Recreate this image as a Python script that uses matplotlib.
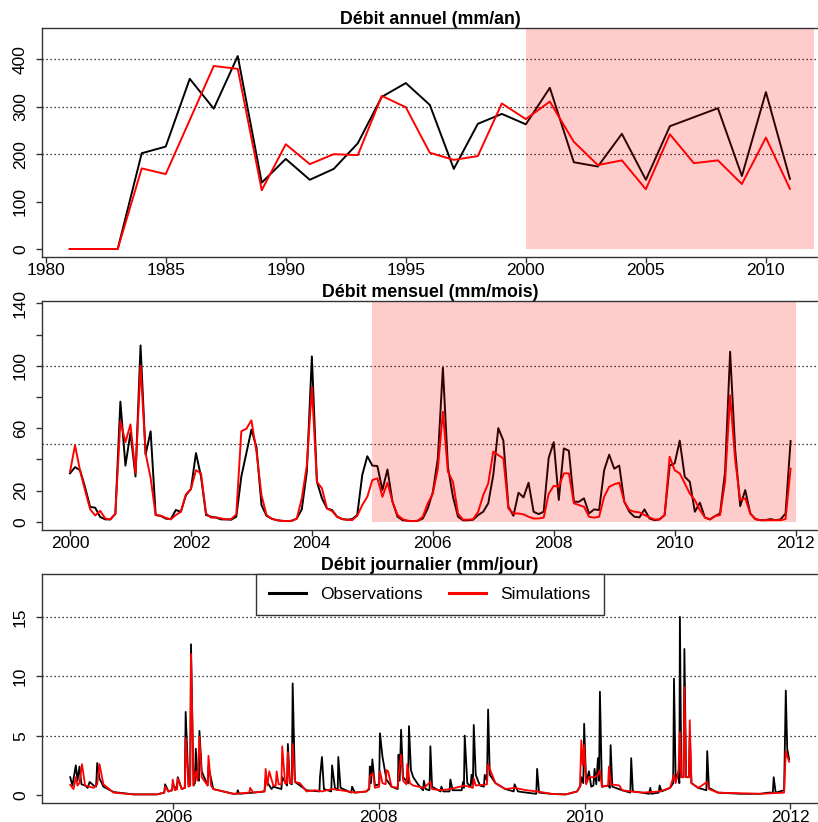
import numpy as np
import matplotlib
matplotlib.use("Agg")
import matplotlib.pyplot as plt
from matplotlib.lines import Line2D

plt.rcParams['font.family'] = ['Liberation Sans', 'DejaVu Sans']

# ---- annual (mm/an) ----
annees = np.arange(1981, 2012)
obs_annuel = [0, 0, 0, 202, 216, 359, 296, 407, 140, 190, 146, 169, 223, 321, 350, 304,
              169, 264, 285, 263, 340, 183, 174, 243, 146, 259, 278, 297, 154, 331, 148]
sim_annuel = [0, 0, 0, 170, 158, 272, 386, 380, 124, 221, 179, 200, 198, 323, 299, 203,
              188, 196, 307, 274, 311, 226, 177, 187, 126, 242, 181, 187, 137, 235, 127]

# ---- monthly (mm/mois), Jan 2000 -> Dec 2011 ----
obs_mensuel = [31, 35, 33, 22, 9.5, 9, 3, 1.5, 1.5, 5, 77, 36,
               57, 29, 113, 43, 58, 4.3, 3.8, 2, 1.7, 7.5, 6.4, 17,
               21, 44, 29, 4.3, 3.2, 2.6, 1.5, 1.5, 1.3, 3.2, 29, 44,
               59, 48, 10.7, 3.8, 2, 1, 0.6, 0.4, 0.6, 2, 8, 32,
               106, 25.6, 15, 8.5, 7.5, 3.2, 1.7, 1.3, 1.7, 4.3, 30, 42,
               36, 35.7, 20.3, 33.5, 12.8, 3.2, 1, 0.6, 0.4, 0.6, 2, 8.5,
               19, 40.6, 98.7, 35, 16, 3.2, 0.9, 0.9, 1.3, 4.3, 6.4, 11.8,
               30, 60, 52, 9.6, 3.8, 18.6, 15.6, 25, 6.4, 4.9, 6.4, 41,
               51, 14, 47, 45.5, 12.8, 12.8, 15, 5.3, 7.9, 7.5, 33, 43,
               34, 36, 12.8, 6.4, 3.2, 2.8, 7.9, 2.1, 1, 1.5, 4.3, 36,
               37.4, 52, 28.8, 25.6, 6.4, 12.2, 2.6, 1.5, 3.6, 5.3, 32, 109,
               46, 10, 20.3, 5.3, 1.7, 1, 1, 1.7, 1, 1.5, 5.3, 51.7]
sim_mensuel = [32, 49, 32.7, 20, 8, 4, 7, 2, 1.5, 5, 64.5, 51,
               62.4, 31, 100, 44, 28, 4.3, 3.8, 2.5, 1.5, 4.3, 6.4, 17.5,
               21, 33, 31, 5.3, 2.6, 2.8, 2.1, 1.5, 1.7, 4.7, 58, 59.6,
               65, 45, 17, 4.3, 2, 1, 0.6, 0.4, 0.6, 2, 15, 36,
               86.5, 25.6, 21.4, 8.5, 6.8, 3.2, 1.7, 1.3, 1, 3.8, 10.7, 16,
               26.7, 27.8, 16, 25, 12.8, 4.3, 1.7, 0.6, 0.4, 0.6, 3.2, 11.8,
               18, 34, 70.5, 32, 25.6, 5.3, 1.3, 1.3, 1.7, 6.4, 17, 24.6,
               45, 42.7, 40.6, 8.5, 5.3, 5.3, 4.7, 3.2, 2.1, 2.1, 2.6, 18,
               23, 22.4, 31, 31, 11.8, 10.7, 9.6, 3.2, 2.6, 3.2, 16, 22.4,
               24, 25, 12.8, 7.5, 6.4, 6, 4.3, 2.8, 1.5, 1.5, 4.3, 41.7,
               33, 31, 24.6, 18, 13.9, 7.5, 2.8, 1.5, 3.6, 4.3, 25.6, 81,
               39.5, 13.9, 15, 5.3, 1.7, 1, 1, 1, 1, 1, 1.7, 34]
mois = 2000 + np.arange(len(obs_mensuel)) / 12.0

# ---- daily (mm/jour): (day since 2005-01-01, value) ----
obs_journalier = [
    (0, 1.5), (8, 0.8), (20, 2.5), (26, 1.2), (33, 2.4), (40, 0.9), (53, 0.8), (62, 0.6),
    (69, 1.1), (83, 0.8), (92, 0.7), (96, 2.7), (104, 1.4), (118, 0.7), (154, 0.25),
    (225, 0.05), (308, 0.05), (334, 0.2), (337, 0.9), (349, 0.3), (362, 0.4), (364, 0.9),
    (378, 0.5), (382, 1.5), (396, 0.5), (407, 0.6), (410, 7.0), (420, 0.9), (426, 0.8),
    (429, 12.7), (438, 0.8), (443, 1.0), (446, 3.9), (452, 1.5), (457, 1.2), (459, 5.4),
    (467, 2.0), (488, 0.8), (491, 2.4), (508, 0.5), (579, 0.1), (593, 0.1), (595, 0.4),
    (600, 0.1), (650, 0.2), (690, 0.3), (694, 1.3), (715, 0.5), (721, 0.7), (750, 0.5),
    (753, 1.5), (770, 0.8), (773, 4.3), (780, 1.0), (787, 0.9), (790, 9.4), (798, 1.1),
    (839, 0.4), (885, 0.3), (887, 1.5), (894, 3.2), (901, 0.5), (927, 0.3), (930, 2.5),
    (940, 0.6), (950, 0.4), (952, 3.2), (960, 0.6), (998, 0.2), (1001, 0.7), (1011, 0.2),
    (1052, 0.3), (1062, 0.5), (1064, 2.4), (1068, 1.0), (1073, 3.0), (1082, 0.8),
    (1097, 0.9), (1100, 5.2), (1109, 3.2), (1123, 1.3), (1141, 0.7), (1163, 0.5),
    (1166, 3.4), (1170, 1.2), (1175, 5.5), (1182, 1.5), (1200, 1.0), (1203, 5.8),
    (1210, 2.1), (1218, 1.5), (1235, 0.9), (1253, 0.4), (1256, 1.2), (1262, 0.5),
    (1276, 0.4), (1279, 4.1), (1285, 0.7), (1315, 0.3), (1318, 0.7), (1325, 0.3),
    (1347, 0.3), (1350, 1.3), (1358, 0.4), (1390, 0.4), (1395, 1.1), (1398, 0.6),
    (1401, 5.0), (1410, 1.0), (1422, 0.7), (1425, 1.7), (1430, 0.9), (1433, 5.9),
    (1440, 1.7), (1455, 0.8), (1469, 0.7), (1472, 1.7), (1480, 1.2), (1484, 7.2),
    (1490, 1.7), (1510, 1.0), (1545, 0.5), (1575, 0.3), (1578, 0.9), (1590, 0.3),
    (1620, 0.2), (1655, 0.1), (1658, 2.2), (1665, 0.2), (1714, 0.08), (1760, 0.05),
    (1800, 0.3), (1812, 0.8), (1815, 1.5), (1822, 1.0), (1825, 6.0), (1832, 1.0),
    (1842, 2.0), (1850, 0.7), (1858, 0.8), (1862, 2.2), (1868, 0.9), (1874, 3.1),
    (1878, 1.2), (1881, 8.7), (1888, 0.7), (1912, 0.8), (1916, 0.6), (1919, 4.2),
    (1925, 0.7), (1960, 0.4), (1989, 0.2), (1992, 3.1), (1998, 0.3), (2030, 0.2),
    (2055, 0.1), (2060, 0.6), (2063, 0.1), (2090, 0.2), (2093, 0.8), (2100, 0.3),
    (2130, 0.6), (2141, 1.0), (2144, 9.8), (2150, 1.2), (2160, 2.0), (2163, 1.0),
    (2165, 15.0), (2170, 1.5), (2178, 1.5), (2181, 12.3), (2187, 1.5), (2197, 1.5),
    (2200, 5.0), (2206, 1.0), (2230, 0.6), (2259, 0.4), (2262, 3.7), (2268, 0.6),
    (2300, 0.2), (2380, 0.1), (2450, 0.1), (2480, 0.2), (2495, 0.2), (2498, 1.5),
    (2505, 0.2), (2535, 0.4), (2541, 8.8), (2546, 3.9), (2553, 3.0)]
sim_journalier = [
    (0, 0.85), (12, 0.5), (20, 1.5), (26, 0.8), (33, 1.0), (42, 2.6), (53, 0.8), (69, 0.7),
    (83, 0.6), (96, 0.9), (104, 2.6), (118, 0.9), (154, 0.2), (225, 0.05), (308, 0.05),
    (334, 0.2), (337, 0.7), (349, 0.3), (362, 0.4), (364, 1.3), (372, 0.4), (380, 0.5),
    (382, 1.4), (396, 0.5), (407, 0.6), (410, 4.8), (420, 0.7), (426, 0.8), (429, 11.9),
    (438, 0.8), (446, 2.0), (452, 1.2), (459, 4.9), (467, 1.5), (488, 0.8), (491, 3.3),
    (500, 0.8), (508, 0.5), (579, 0.1), (636, 0.2), (639, 0.6), (650, 0.2), (690, 0.3),
    (694, 2.2), (700, 0.8), (707, 2.0), (721, 0.8), (730, 0.8), (733, 2.0), (740, 0.9),
    (750, 0.9), (753, 4.1), (763, 1.0), (770, 1.0), (773, 3.6), (780, 1.0), (787, 1.0),
    (790, 4.3), (798, 1.1), (816, 1.0), (839, 0.3), (869, 0.4), (894, 0.3), (930, 0.5),
    (960, 0.4), (1011, 0.2), (1052, 0.3), (1062, 0.6), (1064, 1.5), (1067, 1.7),
    (1076, 1.8), (1082, 0.6), (1097, 0.7), (1100, 2.0), (1109, 1.0), (1120, 0.9),
    (1123, 2.1), (1129, 2.0), (1141, 0.7), (1163, 0.6), (1166, 1.7), (1175, 3.4),
    (1182, 1.2), (1194, 0.9), (1197, 2.6), (1206, 1.0), (1218, 0.8), (1256, 0.6),
    (1279, 1.1), (1285, 0.5), (1318, 0.4), (1350, 0.5), (1401, 0.8), (1430, 0.6),
    (1433, 1.4), (1440, 0.8), (1480, 0.9), (1484, 2.6), (1490, 2.2), (1510, 1.0),
    (1545, 0.5), (1578, 0.6), (1620, 0.4), (1658, 0.3), (1714, 0.08), (1760, 0.05),
    (1800, 0.3), (1810, 0.7), (1815, 4.6), (1820, 2.5), (1825, 4.2), (1832, 0.9),
    (1842, 1.5), (1862, 1.5), (1874, 1.7), (1881, 2.1), (1888, 0.7), (1910, 0.8),
    (1913, 2.4), (1920, 0.9), (1950, 0.8), (1960, 0.4), (1992, 0.3), (2030, 0.2),
    (2093, 0.3), (2130, 0.6), (2144, 1.7), (2150, 1.0), (2160, 2.0), (2165, 5.3),
    (2170, 1.5), (2178, 1.5), (2181, 9.1), (2187, 1.5), (2197, 1.5), (2200, 6.3),
    (2206, 1.0), (2230, 0.6), (2262, 1.1), (2268, 0.5), (2300, 0.2), (2450, 0.1),
    (2535, 0.2), (2541, 3.7), (2546, 3.3), (2553, 2.8)]
jours_obs, debit_obs = zip(*obs_journalier)
jours_sim, debit_sim = zip(*sim_journalier)
t_obs = 2005 + np.array(jours_obs) / 365.25
t_sim = 2005 + np.array(jours_sim) / 365.25

W, H = 818, 822
fig = plt.figure(figsize=(W / 100, H / 100), dpi=100)


def make_ax(y_top, y_bot, x0=42):
    return fig.add_axes([x0 / W, 1 - y_bot / H, (W - x0) / W, (y_bot - y_top) / H])


def style(ax, grid, yticks, ylabels=None):
    ax.spines['right'].set_visible(False)
    for s in ['left', 'bottom', 'top']:
        ax.spines[s].set_color('#333333')
        ax.spines[s].set_linewidth(1.0)
        ax.spines[s].set_zorder(6)
    ax.tick_params(length=4, width=1, color='#333333', labelsize=12.5)
    ax.tick_params(axis='x', pad=0.5)
    ax.tick_params(axis='y', pad=6)
    for v in grid:
        ax.axhline(v, color='black', lw=0.9, ls=(0, (1, 2.2)), zorder=1)
    ax.set_yticks(yticks)
    if ylabels is not None:
        ax.set_yticklabels(ylabels)
    plt.setp(ax.get_yticklabels(), rotation=90, va='center')


# top: annual
ax1 = make_ax(28, 257)
ax1.plot(annees, obs_annuel, color='black', lw=1.4, zorder=2)
ax1.plot(annees, sim_annuel, color='red', lw=1.4, zorder=3)
ax1.set_xlim(1979.846, 2012.17)
ax1.set_ylim(-16.9, 466.2)
ax1.fill_between([2000, 2012], 0, 466.2, color='red', alpha=0.2, lw=0, zorder=4)
ax1.set_xticks(np.arange(1980, 2011, 5))
style(ax1, [200, 300, 400], [0, 100, 200, 300, 400])
ax1.set_title('Débit annuel (mm/an)', fontsize=12.8, fontweight='bold', pad=0)

# middle: monthly
ax2 = make_ax(300.7, 530)
ax2.plot(mois, obs_mensuel, color='black', lw=1.4, zorder=2)
ax2.plot(mois, sim_mensuel, color='red', lw=1.4, zorder=3)
ax2.set_xlim(1999.537, 2012.37)
ax2.set_ylim(-5.3, 141.7)
ax2.fill_between([2005, 2012], 0, 141.7, color='red', alpha=0.2, lw=0, zorder=4)
ax2.set_xticks(np.arange(2000, 2013, 2))
style(ax2, [50, 100], np.arange(0, 141, 20),
      ['0', '20', '', '60', '', '100', '', '140'])
ax2.set_title('Débit mensuel (mm/mois)', fontsize=12.8, fontweight='bold', pad=0)

# bottom: daily
ax3 = make_ax(574, 803.3)
ax3.plot(t_obs, debit_obs, color='black', lw=1.3, zorder=2)
ax3.plot(t_sim, debit_sim, color='red', lw=1.3, zorder=3)
ax3.set_xlim(2004.726, 2012.27)
ax3.set_ylim(-0.7, 18.62)
ax3.set_xticks([2006, 2008, 2010, 2012])
style(ax3, [5, 10, 15], [0, 5, 10, 15])
ax3.set_title('Débit journalier (mm/jour)', fontsize=12.8, fontweight='bold', pad=1.5)

handles = [Line2D([], [], color='black', lw=2.2), Line2D([], [], color='red', lw=2.2)]
leg = ax3.legend(handles, ['Observations', 'Simulations'], loc='upper center',
                 bbox_to_anchor=(0.5, 1.0), ncol=2, fontsize=12.5, frameon=True,
                 fancybox=False, edgecolor='#333333', framealpha=1,
                 handlelength=2.1, handletextpad=0.85, columnspacing=1.5,
                 borderpad=0.75, borderaxespad=0)
leg.get_frame().set_linewidth(1.0)
leg.set_zorder(7)

fig.savefig('out.png', dpi=100)
